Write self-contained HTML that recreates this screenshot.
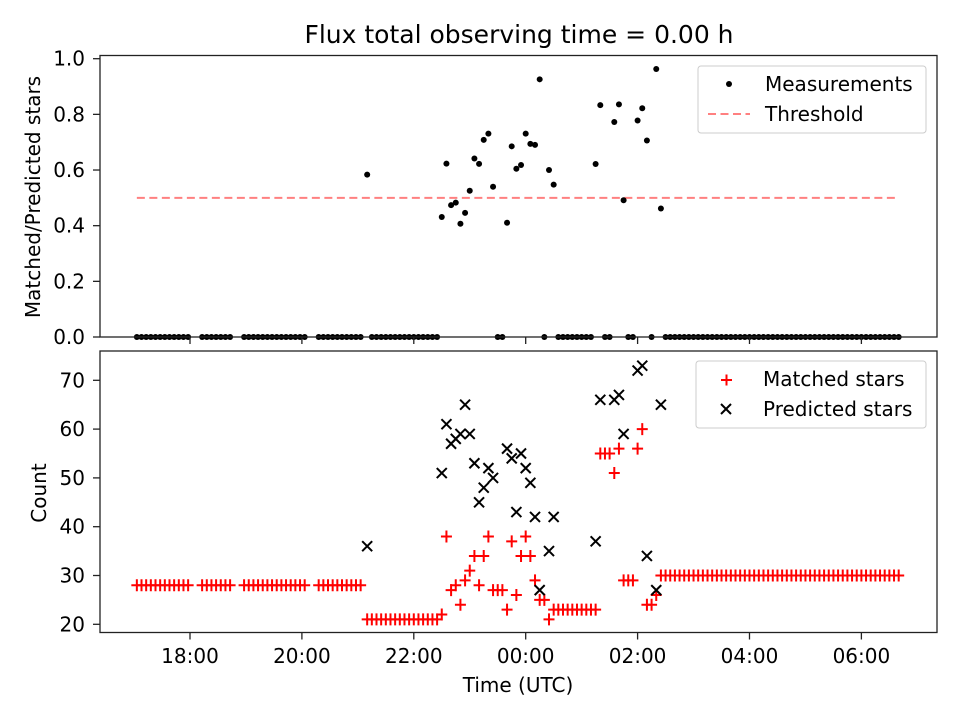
<!DOCTYPE html>
<html><head><meta charset="utf-8"><style>
body{margin:0;background:#fff}
svg{display:block;font-family:"DejaVu Sans","Liberation Sans",sans-serif}
</style></head><body>
<svg id="c" width="960" height="720" viewBox="0 0 960 720">
<rect width="960" height="720" fill="#fff"/>
<text x="519" y="43" font-size="25" text-anchor="middle">Flux total observing time = 0.00 h</text>
<g id="gtop"></g>
<g id="gbot"></g>
<text transform="translate(40,197) rotate(-90)" font-size="20" text-anchor="middle">Matched/Predicted stars</text>
<text transform="translate(46,493) rotate(-90)" font-size="20" text-anchor="middle">Count</text>
<text x="518" y="692" font-size="20" text-anchor="middle">Time (UTC)</text>
<g>
<rect x="698" y="66" width="228" height="67" rx="3" fill="#fff" fill-opacity="0.8" stroke="#ccc"/>
<circle cx="729" cy="84" r="3" fill="#000"/>
<text x="765" y="91" font-size="20">Measurements</text>
<line x1="708" x2="750" y1="114" y2="114" stroke="#ff8080" stroke-width="2" stroke-dasharray="8 4.5"/>
<text x="765" y="121" font-size="20">Threshold</text>
</g>
<g>
<rect x="696" y="361" width="230" height="67" rx="3" fill="#fff" fill-opacity="0.8" stroke="#ccc"/>
<path d="M721,380H732M726.5,374.5V385.5" stroke="#f00" stroke-width="2"/>
<text x="763" y="386" font-size="20">Matched stars</text>
<path d="M721,404L731,414M721,414L731,404" stroke="#000" stroke-width="2"/>
<text x="763" y="416" font-size="20">Predicted stars</text>
</g>
</svg>
<script>
// minutes since 17:00 UTC
const minutes = [3,8,13,18,23,28,33,38,43,48,53,58,73,78,83,88,93,98,103,118,123,128,133,138,143,148,153,158,163,168,173,178,183,198,203,208,213,218,223,228,233,238,243,
250,255,260,265,270,275,280,285,290,295,300,305,310,315,320,325,
330,335,340,345,350,355,360,365,370,375,380,385,390,395,400,405,410,415,420,425,430,435,440,445,450,
455,460,465,470,475,480,485,490,495,500,505,510,515,520,525,530,535,540,545,550,555,560,565,
570,575,580,585,590,595,600,605,610,615,620,625,630,635,640,645,650,655,660,665,670,675,680,685,690,695,700,705,710,715,720,725,730,735,740,745,750,755,760,765,770,775,780,785,790,795,800,805,810,815,820];
const matched = [28,28,28,28,28,28,28,28,28,28,28,28,28,28,28,28,28,28,28,28,28,28,28,28,28,28,28,28,28,28,28,28,28,28,28,28,28,28,28,28,28,28,28,
21,21,21,21,21,21,21,21,21,21,21,21,21,21,21,21,
22,38,27,28,24,29,31,34,28,34,38,27,27,27,23,37,26,34,38,34,29,25,25,21,23,
23,23,23,23,23,23,23,23,23,55,55,55,51,56,29,29,29,56,60,24,24,26,30,
30,30,30,30,30,30,30,30,30,30,30,30,30,30,30,30,30,30,30,30,30,30,30,30,30,30,30,30,30,30,30,30,30,30,30,30,30,30,30,30,30,30,30,30,30,30,30,30,30,30,30];
const predicted = [null,null,null,null,null,null,null,null,null,null,null,null,null,null,null,null,null,null,null,null,null,null,null,null,null,null,null,null,null,null,null,null,null,null,null,null,null,null,null,null,null,null,null,
36,null,null,null,null,null,null,null,null,null,null,null,null,null,null,null,
51,61,57,58,59,65,59,53,45,48,52,50,null,null,56,54,43,55,52,49,42,27,null,35,42,
null,null,null,null,null,null,null,null,37,66,null,null,66,67,59,null,null,72,73,34,null,27,65,
null,null,null,null,null,null,null,null,null,null,null,null,null,null,null,null,null,null,null,null,null,null,null,null,null,null,null,null,null,null,null,null,null,null,null,null,null,null,null,null,null,null,null,null,null,null,null,null,null,null,null];
const threshold = 0.5;
const ratioTicks = [0,0.2,0.4,0.6,0.8,1.0];
const countTicks = [20,30,40,50,60,70];
const timeTicks = [60,180,300,420,540,660,780];
const timeLabels = ["18:00","20:00","22:00","00:00","02:00","04:00","06:00"];

const NS="http://www.w3.org/2000/svg";
function mk(tag,attrs,parent){const e=document.createElementNS(NS,tag);for(const k in attrs)e.setAttribute(k,attrs[k]);parent.appendChild(e);return e;}
const X0=100,X1=937;
const xs=m=>134.05+m/1.0724;
const yTop=v=>337-278.3*v;
const yBot=c=>624.3-(c-20)*4.88;
const gTop=document.getElementById('gtop'), gBot=document.getElementById('gbot');

const ratio=matched.map((m,i)=>predicted[i]?m/predicted[i]:0);

const tl=mk('line',{x1:xs(minutes[0]),x2:xs(minutes[minutes.length-1]),y1:yTop(threshold),y2:yTop(threshold),stroke:'#ff8080','stroke-width':2,'stroke-dasharray':'8 4.5'},gTop);


ratio.forEach((r,i)=>{
  const c=mk('circle',{cx:xs(minutes[i]),cy:yTop(r),r:3,fill:'#000'},gTop);
  
  
});
matched.forEach((m,i)=>{
  const x=xs(minutes[i]),y=yBot(m);
  const p=mk('path',{d:`M${x-5.5},${y}H${x+5.5}M${x},${y-6}V${y+6}`,stroke:'#f00','stroke-width':2},gBot);
  
  
});
predicted.forEach((v,i)=>{
  if(v==null)return;
  const x=xs(minutes[i]),y=yBot(v);
  const p=mk('path',{d:`M${x-5},${y-5}L${x+5},${y+5}M${x-5},${y+5}L${x+5},${y-5}`,stroke:'#000','stroke-width':2},gBot);
  
  
});

function frame(g,y0,y1){
  const r=mk('rect',{x:X0,y:y0,width:X1-X0,height:y1-y0,fill:'none',stroke:'#222','stroke-width':1.3},g);
  
  
  timeTicks.forEach(t=>{mk('line',{x1:xs(t),x2:xs(t),y1:y1,y2:y1+7,stroke:'#222','stroke-width':1.3},g);});
}
frame(gTop,55.5,337);
frame(gBot,351,632.5);
ratioTicks.forEach(v=>{
  mk('line',{x1:X0-7,x2:X0,y1:yTop(v),y2:yTop(v),stroke:'#222','stroke-width':1.3},gTop);
  const t=mk('text',{x:X0-15,y:yTop(v)+7,'font-size':20,'text-anchor':'end'},gTop);t.textContent=v.toFixed(1);
  
  
});
countTicks.forEach(v=>{
  mk('line',{x1:X0-7,x2:X0,y1:yBot(v),y2:yBot(v),stroke:'#222','stroke-width':1.3},gBot);
  const t=mk('text',{x:X0-15,y:yBot(v)+7,'font-size':20,'text-anchor':'end'},gBot);t.textContent=v;
  
  
});
timeTicks.forEach((v,i)=>{
  const t=mk('text',{x:xs(v),y:663,'font-size':20,'text-anchor':'middle'},gBot);t.textContent=timeLabels[i];
  
  
});
</script>
</body></html>
